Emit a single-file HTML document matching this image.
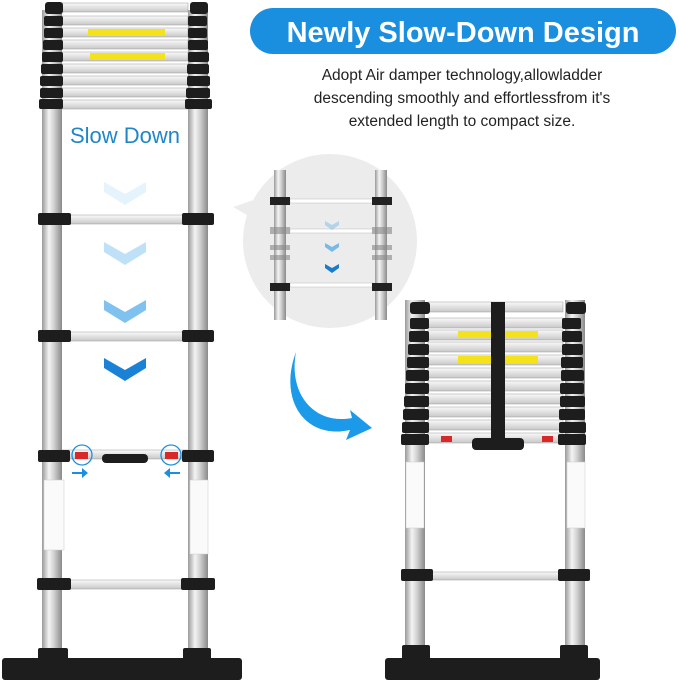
<!DOCTYPE html>
<html><head><meta charset="utf-8"><style>
html,body{margin:0;padding:0;background:#fff;width:679px;height:690px;overflow:hidden}
svg{display:block}
</style></head><body>
<svg width="679" height="690" xmlns="http://www.w3.org/2000/svg">
<defs>
<linearGradient id="pole" x1="0" x2="1"><stop offset="0" stop-color="#9a9a9a"/><stop offset="0.35" stop-color="#f4f4f4"/><stop offset="0.6" stop-color="#d0d0d0"/><stop offset="1" stop-color="#8a8a8a"/></linearGradient>
<linearGradient id="rung" x1="0" y1="0" x2="0" y2="1"><stop offset="0" stop-color="#fafafa"/><stop offset="1" stop-color="#c8c8c8"/></linearGradient>
</defs>
<!-- LEFT LADDER -->
<rect x="42" y="10" width="20" height="650" fill="url(#pole)"/>
<rect x="188" y="10" width="20" height="650" fill="url(#pole)"/>
<g fill="url(#rung)" stroke="#999" stroke-width="0.5">
<rect x="62" y="3" width="126" height="9"/>
<rect x="62" y="16" width="126" height="9"/><rect x="62" y="28" width="126" height="9"/><rect x="62" y="40" width="126" height="9"/><rect x="62" y="52" width="126" height="9"/><rect x="62" y="64" width="126" height="9"/><rect x="62" y="76" width="126" height="9"/><rect x="62" y="88" width="126" height="9"/><rect x="62" y="100" width="126" height="9"/>
<rect x="62" y="215" width="126" height="9"/><rect x="62" y="332" width="126" height="9"/><rect x="62" y="450" width="126" height="9"/><rect x="62" y="580" width="126" height="9"/>
</g>
<rect x="88" y="29" width="77" height="7" fill="#f4e21a"/><rect x="90" y="53" width="75" height="7" fill="#f4e21a"/>
<g fill="#1d1d1d">
<rect x="45" y="2" width="18" height="12" rx="3"/><rect x="190" y="2" width="18" height="12" rx="3"/>
<rect x="44" y="16" width="19" height="10" rx="2"/><rect x="44" y="28" width="19" height="10" rx="2"/><rect x="43" y="40" width="20" height="10" rx="2"/><rect x="42" y="52" width="21" height="10" rx="2"/><rect x="41" y="64" width="22" height="10" rx="2"/><rect x="40" y="76" width="23" height="10" rx="2"/><rect x="40" y="88" width="23" height="10" rx="2"/><rect x="39" y="99" width="24" height="10" rx="2"/>
<rect x="188" y="16" width="19" height="10" rx="2"/><rect x="188" y="28" width="19" height="10" rx="2"/><rect x="188" y="40" width="20" height="10" rx="2"/><rect x="188" y="52" width="21" height="10" rx="2"/><rect x="187" y="64" width="22" height="10" rx="2"/><rect x="187" y="76" width="23" height="10" rx="2"/><rect x="186" y="88" width="24" height="10" rx="2"/><rect x="185" y="99" width="27" height="10" rx="2"/>
<rect x="38" y="213" width="33" height="12" rx="2"/><rect x="182" y="213" width="32" height="12" rx="2"/>
<rect x="38" y="330" width="33" height="12" rx="2"/><rect x="182" y="330" width="32" height="12" rx="2"/>
<rect x="38" y="450" width="32" height="12" rx="2"/><rect x="182" y="450" width="32" height="12" rx="2"/>
<rect x="37" y="578" width="34" height="12" rx="2"/><rect x="181" y="578" width="34" height="12" rx="2"/>
<rect x="102" y="454" width="46" height="9" rx="4"/>
<rect x="38" y="648" width="30" height="20" rx="2"/><rect x="183" y="648" width="28" height="20" rx="2"/>
<rect x="2" y="658" width="240" height="22" rx="3"/>
</g>
<rect x="75" y="452" width="13" height="7" fill="#d92828"/><rect x="165" y="452" width="13" height="7" fill="#d92828"/>
<circle cx="82" cy="455" r="10" fill="none" stroke="#1a8fe0" stroke-width="1.3"/><circle cx="171" cy="455" r="10" fill="none" stroke="#1a8fe0" stroke-width="1.3"/>
<path d="M72 472h10v-4l6 5-6 5v-4h-10z" fill="#1a8fe0"/><path d="M180 472h-10v-4l-6 5 6 5v-4h10z" fill="#1a8fe0"/>
<rect x="44" y="480" width="20" height="70" fill="#fafafa" stroke="#ccc" stroke-width="0.5"/><rect x="190" y="480" width="18" height="74" fill="#fafafa" stroke="#ccc" stroke-width="0.5"/>
<text x="125" y="143" text-anchor="middle" font-family="Liberation Sans, sans-serif" font-size="22" fill="#1f86c8">Slow Down</text>
<g fill="#2a9ae6">
<path d="M104 182l21 12 21-12v10l-21 13-21-13z" opacity="0.12"/>
<path d="M104 242l21 12 21-12v10l-21 13-21-13z" opacity="0.3"/>
<path d="M104 300l21 12 21-12v10l-21 13-21-13z" opacity="0.6"/>
<path d="M104 358l21 12 21-12v10l-21 13-21-13z" fill="#1a82d6"/>
</g>
<!-- BUBBLE -->
<circle cx="330" cy="241" r="87" fill="#ececec"/>
<path d="M233 207l30-10 5 30z" fill="#ececec"/>
<rect x="274" y="170" width="12" height="150" fill="url(#pole)"/><rect x="375" y="170" width="12" height="150" fill="url(#pole)"/>
<g fill="#fff" stroke="#bbb" stroke-width="0.5"><rect x="290" y="199" width="83" height="4"/><rect x="290" y="229" width="83" height="4"/><rect x="290" y="283" width="83" height="4"/></g>
<g fill="#222"><rect x="270" y="197" width="20" height="8"/><rect x="372" y="197" width="20" height="8"/><rect x="270" y="283" width="20" height="8"/><rect x="372" y="283" width="20" height="8"/></g>
<g fill="#888" opacity="0.6"><rect x="270" y="227" width="20" height="7"/><rect x="372" y="227" width="20" height="7"/><rect x="270" y="245" width="20" height="5"/><rect x="372" y="245" width="20" height="5"/><rect x="270" y="255" width="20" height="5"/><rect x="372" y="255" width="20" height="5"/></g>
<g fill="#2a9ae6"><path d="M325 221l7 4 7-4v4l-7 5-7-5z" opacity="0.3"/><path d="M325 243l7 4 7-4v4l-7 5-7-5z" opacity="0.6"/><path d="M325 264l7 4 7-4v4l-7 5-7-5z" fill="#1a7cc8"/></g>
<!-- CURVED ARROW -->
<path d="M296 352 C288 395 315 425 352 418 L350 410 L372 428 L346 440 L350 430 C305 440 278 400 296 352z" fill="#1a9ae8"/>
<!-- RIGHT LADDER -->
<rect x="405" y="300" width="20" height="360" fill="url(#pole)"/><rect x="565" y="300" width="20" height="360" fill="url(#pole)"/>
<g fill="url(#rung)" stroke="#999" stroke-width="0.5">
<rect x="428" y="302" width="135" height="10"/><rect x="428" y="318" width="135" height="10"/><rect x="428" y="330" width="135" height="10"/><rect x="428" y="342" width="135" height="10"/><rect x="428" y="355" width="135" height="10"/><rect x="428" y="368" width="135" height="10"/><rect x="428" y="381" width="135" height="10"/><rect x="428" y="394" width="135" height="10"/><rect x="428" y="407" width="135" height="10"/><rect x="428" y="420" width="135" height="10"/><rect x="428" y="433" width="135" height="10"/>
<rect x="428" y="572" width="135" height="8"/>
</g>
<rect x="458" y="331" width="80" height="7" fill="#f4e21a"/><rect x="458" y="356" width="80" height="7" fill="#f4e21a"/>
<g fill="#1d1d1d">
<rect x="410" y="302" width="20" height="12" rx="3"/><rect x="566" y="302" width="20" height="12" rx="3"/>
<rect x="410" y="318" width="19" height="11" rx="2"/><rect x="409" y="331" width="20" height="11" rx="2"/><rect x="408" y="344" width="21" height="11" rx="2"/><rect x="407" y="357" width="22" height="11" rx="2"/><rect x="406" y="370" width="23" height="11" rx="2"/><rect x="405" y="383" width="24" height="11" rx="2"/><rect x="404" y="396" width="25" height="11" rx="2"/><rect x="403" y="409" width="26" height="11" rx="2"/><rect x="402" y="422" width="27" height="11" rx="2"/><rect x="401" y="434" width="28" height="11" rx="2"/>
<rect x="562" y="318" width="19" height="11" rx="2"/><rect x="562" y="331" width="20" height="11" rx="2"/><rect x="562" y="344" width="21" height="11" rx="2"/><rect x="561" y="357" width="22" height="11" rx="2"/><rect x="561" y="370" width="23" height="11" rx="2"/><rect x="560" y="383" width="24" height="11" rx="2"/><rect x="560" y="396" width="25" height="11" rx="2"/><rect x="559" y="409" width="26" height="11" rx="2"/><rect x="559" y="422" width="27" height="11" rx="2"/><rect x="558" y="434" width="28" height="11" rx="2"/>
<rect x="491" y="302" width="14" height="140"/><rect x="472" y="438" width="52" height="12" rx="4"/>
<rect x="401" y="569" width="32" height="12" rx="2"/><rect x="558" y="569" width="32" height="12" rx="2"/>
<rect x="402" y="645" width="28" height="20" rx="2"/><rect x="560" y="645" width="28" height="20" rx="2"/>
<rect x="385" y="658" width="215" height="22" rx="3"/>
</g>
<rect x="441" y="436" width="11" height="6" fill="#d92828"/><rect x="542" y="436" width="11" height="6" fill="#d92828"/>
<rect x="406" y="462" width="18" height="66" fill="#fafafa" stroke="#ccc" stroke-width="0.5"/><rect x="567" y="462" width="18" height="66" fill="#fafafa" stroke="#ccc" stroke-width="0.5"/>
<!-- TITLE -->
<rect x="250" y="8" width="426" height="46" rx="23" fill="#1a8fe0"/>
<text x="463" y="42" text-anchor="middle" font-family="Liberation Sans, sans-serif" font-weight="bold" font-size="29" fill="#fff">Newly Slow-Down Design</text>
<g font-family="Liberation Sans, sans-serif" font-size="15.5" fill="#222" text-anchor="middle">
<text x="462" y="80">Adopt Air damper technology,allowladder</text>
<text x="462" y="103">descending smoothly and effortlessfrom it's</text>
<text x="462" y="126">extended length to compact size.</text>
</g>
</svg>
</body></html>
